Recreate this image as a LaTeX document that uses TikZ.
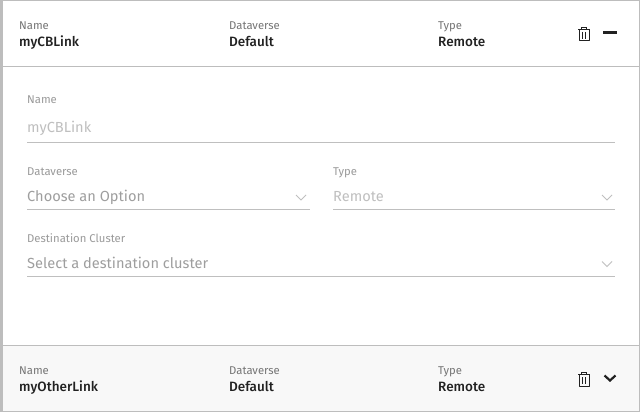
\documentclass[tikz,border=0pt]{standalone}
\usepackage{fontspec}
\setmainfont[BoldFont={Fira Sans Medium}]{Fira Sans}
\usepackage{tikz}
\usetikzlibrary{positioning}
\definecolor{Edge}{HTML}{BDBDBD}
\definecolor{RowFill}{HTML}{F8F8F8}
\definecolor{Caption}{HTML}{757575}
\definecolor{Ink}{HTML}{212121}
\definecolor{FormLabel}{HTML}{9A9A9A}
\definecolor{Faint}{HTML}{BFBFBF}
\definecolor{Prompt}{HTML}{9E9E9E}
\tikzset{
  caption/.style={anchor=base west, inner sep=0pt, text=Caption, font=\fontsize{11.3}{13}\selectfont},
  value/.style={anchor=base west, inner sep=0pt, text=Ink, font=\fontsize{13.5}{15}\selectfont\bfseries},
  flabel/.style={anchor=base west, inner sep=0pt, text=FormLabel, font=\fontsize{11.3}{13}\selectfont},
  fvalue/.style={anchor=base west, inner sep=0pt, text=Faint, font=\fontsize{14.6}{16}\selectfont},
  fprompt/.style={fvalue, text=Prompt},
  rule/.style={draw=Edge, line width=1pt},
  fieldrule/.style={draw=Faint, line width=1pt},
  pics/trashicon/.style={code={
    \draw[Ink, line width=1pt, line join=round] (-5,-4.5) rectangle (5,7);
    \draw[Ink, line width=1pt] (-6,-4.5) -- (6,-4.5);
    \draw[Ink, line width=1pt] (-2.5,-4.5) -- (-2.5,-6.5) -- (2.5,-6.5) -- (2.5,-4.5);
    \draw[Ink, line width=1pt] (-1.5,-2) -- (-1.5,5) (1.5,-2) -- (1.5,5);
  }},
  pics/chevronicon/.style={code={
    \draw[Ink, line width=2.2pt] (-5.5,-2.5) -- (0,2.5) -- (5.5,-2.5);
  }},
  pics/fieldchevron/.style={code={
    \draw[Faint, line width=1pt] (-5,-2.5) -- (0,2.5) -- (5,-2.5);
  }},
}
\begin{document}
\begin{tikzpicture}[x=1pt, y=-1pt]
  \useasboundingbox (0,0) rectangle (640,412);
  \fill[white] (0,0) rectangle (640,412);
  \fill[RowFill] (3,346) rectangle (640,412);
  % frame
  \fill[Edge] (0,0) rectangle (3,412);
  \draw[rule] (0,0.5) -- (640,0.5);
  \draw[rule] (639.5,0) -- (639.5,412);
  \draw[rule] (0,411.5) -- (640,411.5);
  \draw[rule] (3,66.5) -- (640,66.5);
  \draw[rule] (3,345.5) -- (640,345.5);
  % open row
  \node[caption] (nameCap) at (19,29.7) {Name};
  \node[value] (nameVal) at (19,46.7) {myCBLink};
  \node[caption] (dvCap) at (229,29.7) {Dataverse};
  \node[value] (dvVal) at (229,46.7) {Default};
  \node[caption] (typeCap) at (438,29.7) {Type};
  \node[value] (typeVal) at (438,46.7) {Remote};
  \pic at (584,34) {trashicon};
  \draw[Ink, line width=2.6pt] (603,32.5) -- (617,32.5);
  % form
  \node[flabel] (formName) at (27,103) {Name};
  \node[fvalue] (formNameVal) at (27,132) {myCBLink};
  \draw[fieldrule] (27,142.5) -- (615,142.5);
  \node[flabel] (formDv) at (27,175) {Dataverse};
  \node[fprompt] (formDvVal) at (27,201) {Choose an Option};
  \draw[fieldrule] (27,209.5) -- (310,209.5);
  \pic at (301,197.5) {fieldchevron};
  \node[flabel] (formType) at (333,175) {Type};
  \node[fvalue] (formTypeVal) at (333,201) {Remote};
  \draw[fieldrule] (333,209.5) -- (615,209.5);
  \pic at (607,197.5) {fieldchevron};
  \node[flabel] (formDest) at (27,242) {Destination Cluster};
  \node[fprompt] (formDestVal) at (27,268) {Select a destination cluster};
  \draw[fieldrule] (27,276.5) -- (615,276.5);
  \pic at (607,264) {fieldchevron};
  % closed row
  \node[caption] (otherCap) at (19,374.3) {Name};
  \node[value] (otherVal) at (19,391) {myOtherLink};
  \node[caption] (otherDvCap) at (229,374.3) {Dataverse};
  \node[value] (otherDvVal) at (229,391) {Default};
  \node[caption] (otherTypeCap) at (438,374.3) {Type};
  \node[value] (otherTypeVal) at (438,391) {Remote};
  \pic at (584,379) {trashicon};
  \pic at (610,378) {chevronicon};
\end{tikzpicture}
\end{document}
